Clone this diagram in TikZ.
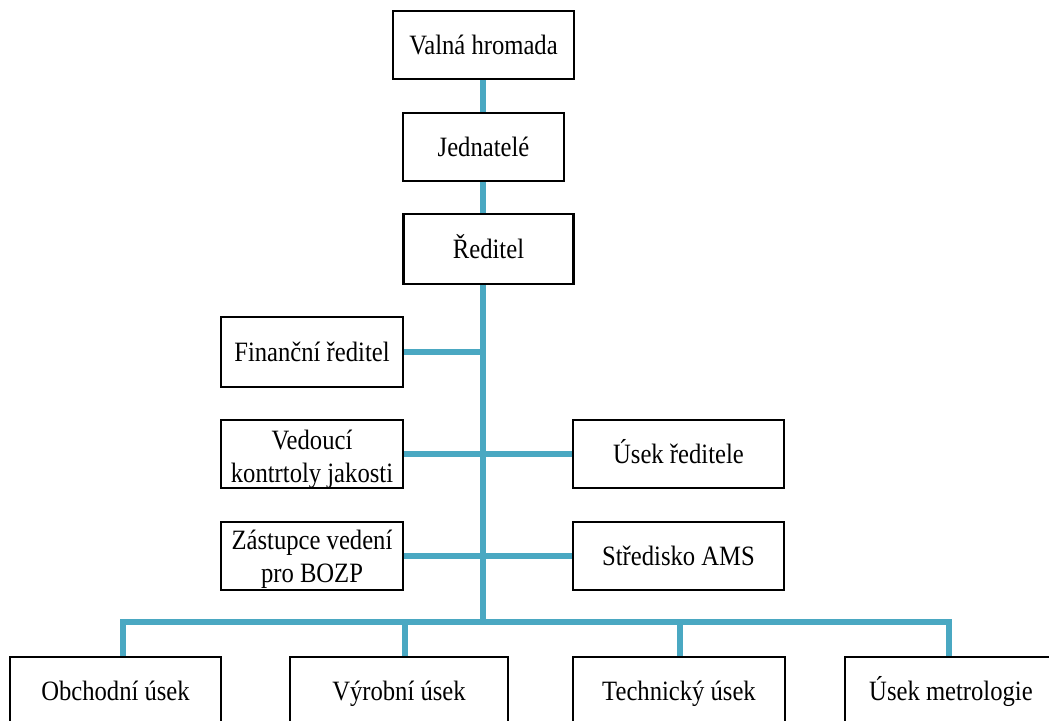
\documentclass[tikz,border=0pt]{standalone}
\usepackage{fontspec}
\setmainfont{Liberation Serif}[FakeStretch=0.88]
\usetikzlibrary{backgrounds}
\definecolor{conn}{HTML}{4AA8C2}
\begin{document}
\begin{tikzpicture}[x=1pt,y=-1pt,
  box/.style={draw=black, line width=2.8pt, fill=white, inner sep=0pt,
    align=center, font=\fontsize{28}{33}\selectfont},
  one/.style={text height=24pt, text depth=6pt},
  link/.style={draw=conn, line width=6.5pt}]
\useasboundingbox (0,0) rectangle (1049,720);
\clip (0,0) rectangle (1049,720);

% top chain
\node[box, one, minimum width=181pt, minimum height=68pt] (valna) at (483.5,45) {Valná hromada};
\node[box, one, minimum width=161pt, minimum height=68pt] (jedn) at (483.5,147) {Jednatelé};
\node[box, one, minimum width=170pt, minimum height=70pt] (red) at (488.5,249) {Ředitel};

% left staff boxes
\node[box, one, minimum width=182pt, minimum height=70pt] (fin) at (312,352) {Finanční ředitel};
\node[box, text height=62pt, text depth=6pt, minimum width=182pt, minimum height=68pt] (ved) at (312,454) {Vedoucí\\kontrtoly jakosti};
\node[box, text height=58pt, text depth=6pt, minimum width=182pt, minimum height=68pt] (zas) at (312,556) {Zástupce vedení\\pro BOZP};

% right staff boxes
\node[box, one, minimum width=211pt, minimum height=68pt] (usekr) at (678.5,454) {Úsek ředitele};
\node[box, one, minimum width=211pt, minimum height=68pt] (stred) at (678.5,556) {Středisko AMS};

% bottom departments
\node[box, one, minimum width=211pt, minimum height=68pt] (obch) at (115.5,691) {Obchodní úsek};
\node[box, one, minimum width=218pt, minimum height=68pt] (vyr) at (399,691) {Výrobní úsek};
\node[box, one, minimum width=212pt, minimum height=68pt] (tech) at (679,691) {Technický úsek};
\node[box, one, minimum width=212pt, minimum height=68pt] (metr) at (951,691) {Úsek metrologie};

\coordinate (spine) at (483,0);
\coordinate (bar) at (0,622);
\coordinate (d1) at (123,0);
\coordinate (d2) at (405,0);
\coordinate (d3) at (680,0);
\coordinate (d4) at (949,0);

\begin{scope}[on background layer]
\fill[white] (0,0) rectangle (1049,720);
\draw[link] (valna.south -| spine) -- (jedn.north -| spine);
\draw[link] (jedn.south -| spine) -- (red.north -| spine);
\draw[link] (red.south -| spine) -- (spine |- bar);
\draw[link] (fin.east) -- (fin.east -| spine);
\draw[link] (ved.east) -- (usekr.west);
\draw[link] (zas.east) -- (stred.west);
\draw[link, line join=miter] (obch.north -| d1) -- (d1 |- bar) -- (d4 |- bar) -- (metr.north -| d4);
\draw[link] (d2 |- bar) -- (vyr.north -| d2);
\draw[link] (d3 |- bar) -- (tech.north -| d3);
\end{scope}
\end{tikzpicture}
\end{document}
